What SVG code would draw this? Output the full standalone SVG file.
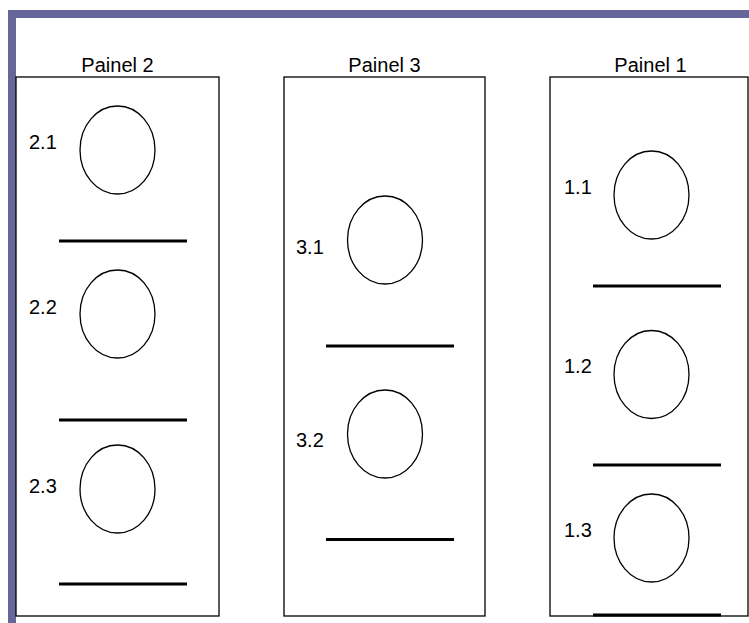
<svg xmlns="http://www.w3.org/2000/svg" width="749" height="623" viewBox="0 0 749 623">
<style>
text{font-family:"Liberation Sans",Arial,sans-serif;font-size:20px;fill:#000}
.t{text-anchor:middle}
.panel{fill:#fff;stroke:#000;stroke-width:1.3}
.slot{fill:#fff;stroke:#000;stroke-width:1.3}
.bar{stroke:#000;stroke-width:3}
</style>
<rect x="0" y="0" width="749" height="623" fill="#fff"/>
<rect x="12" y="14" width="800" height="700" fill="none" stroke="#666699" stroke-width="8"/>
<g id="painel2">
<rect class="panel" x="16" y="77" width="203" height="539"/>
<text class="t" x="117.5" y="71.5">Painel 2</text>
<g id="s2-1"><ellipse class="slot" cx="117.5" cy="150" rx="37.5" ry="44"/><text x="29" y="149">2.1</text></g>
<line class="bar" x1="59" y1="241" x2="187" y2="241"/>
<g id="s2-2"><ellipse class="slot" cx="117.5" cy="314" rx="37.5" ry="44"/><text x="29" y="314">2.2</text></g>
<line class="bar" x1="59" y1="420" x2="187" y2="420"/>
<g id="s2-3"><ellipse class="slot" cx="117.5" cy="489" rx="37.5" ry="44"/><text x="29" y="493">2.3</text></g>
<line class="bar" x1="59" y1="584" x2="187" y2="584"/>
</g>
<g id="painel3">
<rect class="panel" x="284" y="77" width="201" height="539"/>
<text class="t" x="384.5" y="71.5">Painel 3</text>
<g id="s3-1"><ellipse class="slot" cx="385" cy="240" rx="37.5" ry="44"/><text x="296" y="254">3.1</text></g>
<line class="bar" x1="326" y1="346" x2="454" y2="346"/>
<g id="s3-2"><ellipse class="slot" cx="385" cy="434" rx="37.5" ry="44"/><text x="296" y="447">3.2</text></g>
<line class="bar" x1="326" y1="539.5" x2="454" y2="539.5"/>
</g>
<g id="painel1">
<rect class="panel" x="550" y="77" width="198" height="539"/>
<text class="t" x="650.5" y="71.5">Painel 1</text>
<g id="s1-1"><ellipse class="slot" cx="651.5" cy="195" rx="37.5" ry="44"/><text x="564" y="194">1.1</text></g>
<line class="bar" x1="593" y1="286" x2="721" y2="286"/>
<g id="s1-2"><ellipse class="slot" cx="651.5" cy="374.5" rx="37.5" ry="44"/><text x="564" y="373">1.2</text></g>
<line class="bar" x1="593" y1="465" x2="721" y2="465"/>
<g id="s1-3"><ellipse class="slot" cx="651.5" cy="538" rx="37.5" ry="44"/><text x="564" y="537">1.3</text></g>
<line class="bar" x1="593" y1="615" x2="721" y2="615"/>
</g>
<g id="connectors"/>
</svg>
